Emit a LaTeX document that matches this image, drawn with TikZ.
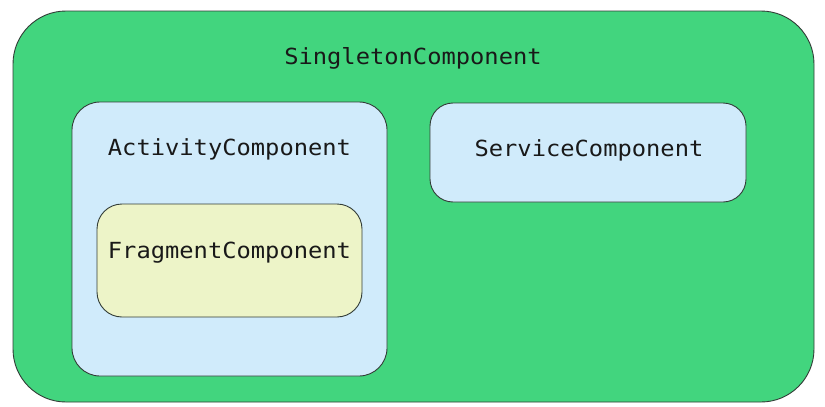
\documentclass[tikz,border=0pt]{standalone}
\usepackage{fontspec}
\newfontfamily\monof[FakeStretch=1.07]{DejaVu Sans Mono}
\definecolor{outergreen}{RGB}{66,213,126}
\definecolor{lightblue}{RGB}{208,235,251}
\definecolor{lightyellow}{RGB}{237,244,200}
\definecolor{edgegray}{RGB}{50,60,55}
\begin{document}
\begin{tikzpicture}[x=1pt,y=-1pt,
  box/.style={draw=edgegray, line width=0.9pt, rectangle, inner sep=0pt, outer sep=0pt},
  lbl/.style={anchor=base, inner sep=0pt, font=\monof\fontsize{22.2}{26}\selectfont, text=black!90}]
\useasboundingbox (0,0) rectangle (825,407);
\fill[white] (0,0) rectangle (825,407);
\node[box, fill=outergreen, rounded corners=53pt, minimum width=801pt, minimum height=391pt] (singleton) at (413.5,206.5) {};
\node[box, fill=lightblue, rounded corners=28pt, minimum width=315pt, minimum height=274pt] (activity) at (229.5,239) {};
\node[box, fill=lightyellow, rounded corners=25pt, minimum width=265pt, minimum height=113pt] (fragment) at (229.5,260.5) {};
\node[box, fill=lightblue, rounded corners=23pt, minimum width=316pt, minimum height=99pt] (service) at (588,152.5) {};
\node[lbl] (singletonlbl) at (413,64) {SingletonComponent};
\node[lbl] (activitylbl) at (229.5,155) {ActivityComponent};
\node[lbl] (fragmentlbl) at (229.5,258) {FragmentComponent};
\node[lbl] (servicelbl) at (589,156) {ServiceComponent};
\end{tikzpicture}
\end{document}
